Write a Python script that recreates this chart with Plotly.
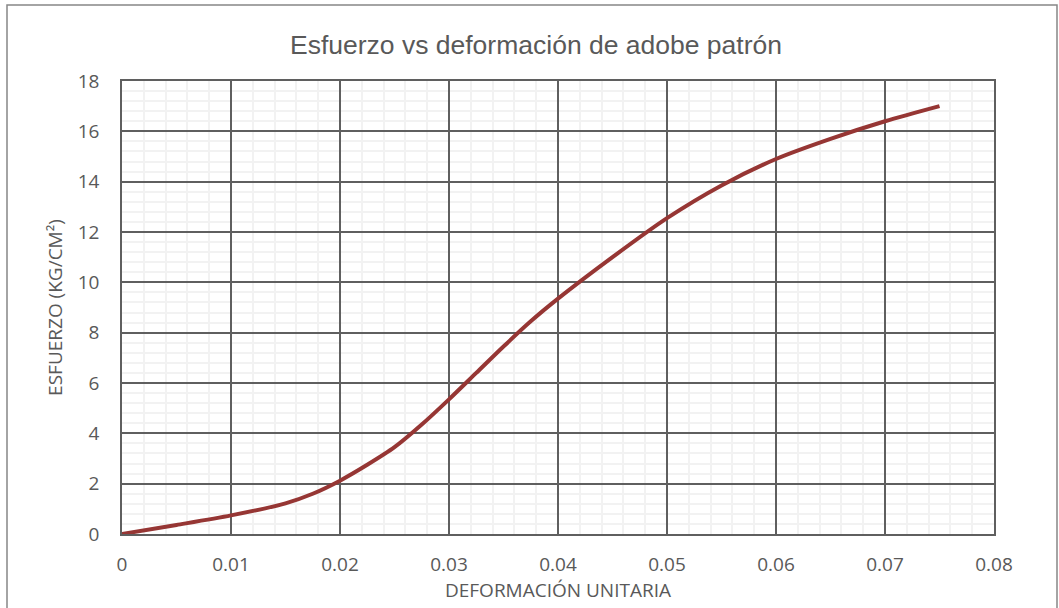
import plotly.graph_objects as go

# Data
deformacion = [0, 0.005, 0.01, 0.015, 0.0175, 0.02, 0.0225, 0.025, 0.0275, 0.03,
               0.0325, 0.035, 0.0375, 0.04, 0.045, 0.05, 0.055, 0.06, 0.065, 0.07, 0.075]
esfuerzo = [0, 0.36, 0.74, 1.22, 1.6, 2.12, 2.75, 3.45, 4.35, 5.35,
            6.4, 7.45, 8.45, 9.35, 11.0, 12.55, 13.85, 14.9, 15.7, 16.4, 17.0]

x_ticks = [0, 0.01, 0.02, 0.03, 0.04, 0.05, 0.06, 0.07, 0.08]
x_tick_labels = ["0", "0.01", "0.02", "0.03", "0.04", "0.05", "0.06", "0.07", "0.08"]
y_ticks = [0, 2, 4, 6, 8, 10, 12, 14, 16, 18]

W, H = 1059, 608
L, R, T, B = 122, 65, 81, 74
pw, ph = W - L - R, H - T - B

fig = go.Figure()
fig.add_trace(go.Scatter(
    x=deformacion, y=esfuerzo, mode="lines",
    line=dict(color="#963634", width=4, shape="spline", smoothing=0.8),
    showlegend=False, hoverinfo="x+y"))

tick_font = dict(family="Open Sans", size=19, color="#595959")

fig.update_layout(
    width=W, height=H,
    margin=dict(l=L, r=R, t=T, b=B, autoexpand=False),
    paper_bgcolor="white", plot_bgcolor="white",
    title=dict(text="Esfuerzo vs deformación de adobe patrón",
               font=dict(family="Liberation Sans", size=26.5, color="#595959"),
               x=536 / W, xref="container", xanchor="center",
               y=1 - 45 / H, yref="container", yanchor="middle"),
    xaxis=dict(range=[0, 0.08], tickvals=x_ticks, ticktext=x_tick_labels,
               showgrid=True, gridcolor="#5f5f5f", gridwidth=1.5,
               minor=dict(dtick=0.002, showgrid=True, gridcolor="#f2f2f2", gridwidth=1.5),
               showline=True, linecolor="#5f5f5f", linewidth=1.5, mirror=True,
               zeroline=False, ticks="", tickfont=tick_font, ticklabelstandoff=12,
               title=dict(text="DEFORMACIÓN UNITARIA", font=tick_font, standoff=4),
               automargin=False),
    yaxis=dict(range=[0, 18], tickvals=y_ticks,
               showgrid=True, gridcolor="#5f5f5f", gridwidth=1.5,
               minor=dict(dtick=0.4, showgrid=True, gridcolor="#f2f2f2", gridwidth=1.5),
               showline=True, linecolor="#5f5f5f", linewidth=1.5, mirror=True,
               zeroline=False, ticks="", tickfont=tick_font, ticklabelstandoff=17,
               title=dict(text="ESFUERZO (KG/CM²)", font=tick_font, standoff=10),
               automargin=False),
)

# Outer chart frame
fig.add_shape(type="rect", xref="paper", yref="paper",
              x0=(7 - L) / pw, x1=(1057 - L) / pw,
              y0=-0.3, y1=(H - B - 5) / ph,
              line=dict(color="#878787", width=1.5), fillcolor="rgba(0,0,0,0)",
              layer="below")

fig.write_html("out.html", config={"displayModeBar": False},
               post_script="document.body.style.margin='0';document.body.style.overflow='hidden';")
